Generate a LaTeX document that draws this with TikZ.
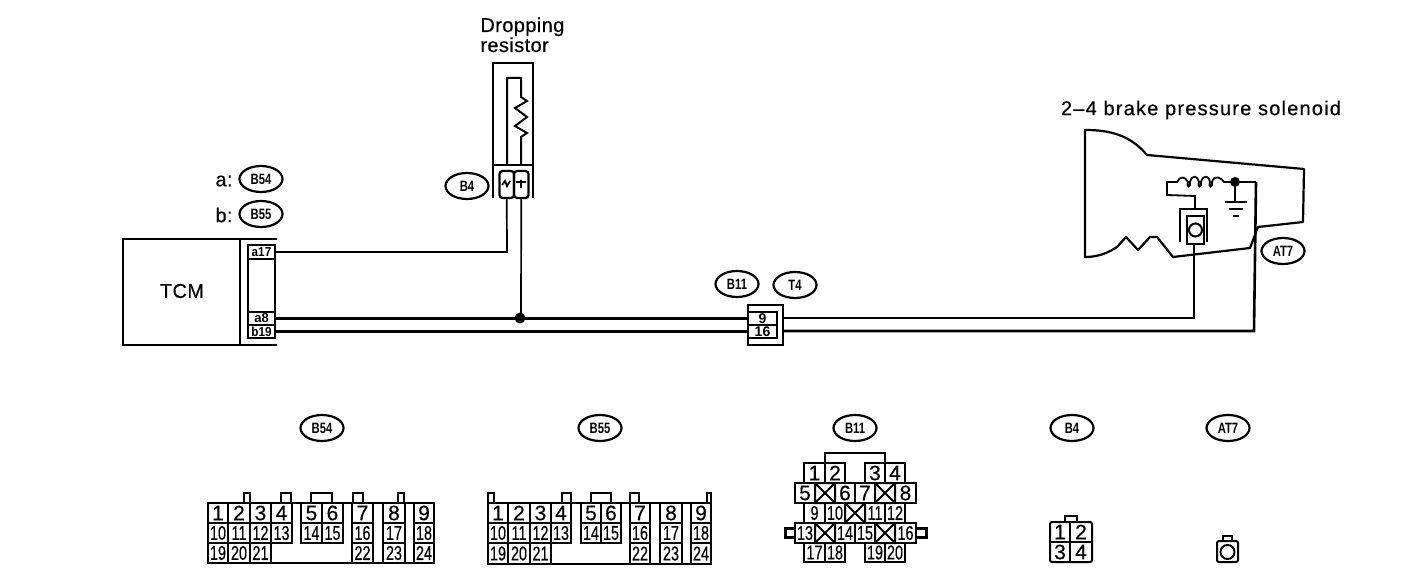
\documentclass[tikz,border=0pt]{standalone}
\usepackage{fontspec}
\setmainfont{Liberation Sans}
\newfontfamily\heavy[FakeBold=.35]{Liberation Sans}
\newfontfamily\heavyb[FakeBold=.35,LetterSpace=2]{Liberation Sans}
\newfontfamily\heavys[FakeBold=.35,LetterSpace=6]{Liberation Sans}
\usetikzlibrary{shapes.geometric}
\tikzset{
  oval/.style={draw,ellipse,line width=1.1pt,minimum width=21.5pt,minimum height=13pt,inner sep=0pt,font=\fontsize{7.5}{8}\bfseries\selectfont},
  lbl/.style={inner sep=0pt,font=\fontsize{10}{11}\heavyb},
  lbls/.style={inner sep=0pt,font=\fontsize{10}{11}\heavys},
  cellbox/.style={line width=1pt},
  big/.style={inner sep=0pt,font=\fontsize{10.5}{11}\heavy},
  small/.style={inner sep=0pt,font=\fontsize{10}{11}\heavy},
  wire/.style={line width=.85pt},
  fat/.style={line width=1.3pt},
  hull/.style={line width=1.1pt,line join=round},
  pin/.style={inner sep=0pt,font=\fontsize{6.5}{7}\bfseries\selectfont}
}
\newcommand{\nar}[1]{\scalebox{.72}[1]{#1}}
\newcommand{\ovt}[1]{\scalebox{.75}[1]{#1}}
\begin{document}
\begin{tikzpicture}[x=.5pt,y=-.5pt]
\useasboundingbox (0,0) rectangle (1408,582);
\fill[white] (0,0) rectangle (1408,582);

% ---- titles
\node[lbl,anchor=base west] (drop) at (480,32) {Dropping};
\node[lbl,anchor=base west] (res) at (480,52) {resistor};
\node[lbls] (sol) at (1201,110) {2–4 brake pressure solenoid};
\node[lbl] (la) at (224,181) {a:};
\node[lbl] (lb) at (224,215) {b:};
\node[oval] (ob54) at (261,179) {\ovt{B54}};
\node[oval] (ob55) at (261,214) {\ovt{B55}};
\node[oval] (ob4) at (467,186) {\ovt{B4}};
\node[oval] (ob11) at (737,284) {\ovt{B11}};
\node[oval] (ot4) at (795,285) {\ovt{T4}};
\node[oval] (oat7) at (1283,251) {\ovt{AT7}};
\node[oval] (cb54) at (322,428) {\ovt{B54}};
\node[oval] (cb55) at (600,428) {\ovt{B55}};
\node[oval] (cb11) at (855,428) {\ovt{B11}};
\node[oval] (cb4) at (1072,428) {\ovt{B4}};
\node[oval] (cat7) at (1228,428) {\ovt{AT7}};

% ---- TCM
\draw[line width=1.1pt] (123,239) rectangle (240,345);
\draw[line width=1.1pt] (240,239) -- (277,239) (240,345) -- (277,345);
\node[lbl] (tcm) at (182,291) {TCM};
\draw[line width=1.1pt] (248,245) rectangle (275,338);
\node[draw,line width=1.1pt,minimum width=13.5pt,minimum height=7pt,inner sep=0pt,pin] (a17) at (261.5,252) {\scalebox{.9}[1]{a17}};
\node[draw,line width=1.1pt,minimum width=13.5pt,minimum height=6.5pt,inner sep=0pt,pin] (a8) at (261.5,318.5) {a8};
\node[draw,line width=1.1pt,minimum width=13.5pt,minimum height=6.5pt,inner sep=0pt,pin] (b19) at (261.5,331.5) {\scalebox{.9}[1]{b19}};

% ---- Dropping resistor
\draw[line width=1.1pt] (493,198) -- (493,63) -- (533,63) -- (533,198);
\draw[wire] (493,165) -- (533,165);
\node[draw,line width=1.1pt,rounded corners=1.5pt,minimum width=7.25pt,minimum height=13.5pt,inner sep=0pt] (cl) at (506.75,184.5) {};
\node[draw,line width=1.1pt,rounded corners=1.5pt,minimum width=7.25pt,minimum height=13.5pt,inner sep=0pt] (cr) at (521.25,184.5) {};
\draw[line width=.9pt] (502,185) -- (505,181) -- (507,186) -- (510,181) (516,182) -- (526,182) (521,180) -- (521,188);
\coordinate (rl) at (507,165);
\coordinate (rr) at (521,165);
\coordinate (rt) at (521,97);
\draw[line width=1pt] (rl) -- (507,78) -- (521,78) -- (rt) -- (527,101) -- (515,108) -- (527,117) -- (515,126) -- (527,133) -- (521,137) -- (rr);

% ---- junction connector
\node[draw,line width=1.3pt,minimum width=14.5pt,minimum height=6.5pt,inner sep=0pt,font=\fontsize{7}{8}\bfseries\selectfont] (j9) at (762.5,318.5) {9};
\node[draw,line width=1.3pt,minimum width=14.5pt,minimum height=6.5pt,inner sep=0pt,font=\fontsize{7}{8}\bfseries\selectfont] (j16) at (762.5,331.5) {16};
\draw[line width=1.1pt] (748,305) -- (783,305) -- (783,345) -- (748,345) -- cycle;

% ---- wiring
\coordinate (jn) at (520,318);
\coordinate (gndtop) at (1235,182);
\coordinate (solb) at (1194,244);
\draw[wire] (a17.east) -- (507,252) -- (cl.south);
\draw[wire] (cr.south) -- (521,318);
\draw[fat] (a8.east) -- (j9.west);
\draw[fat] (b19.east) -- (j16.west);
\fill (jn) circle[radius=5.5];
\draw[fat] (783,318) -- (1194,318) -- (solb);
\draw[fat] (783,331) -- (1254,331) -- (1256,182);

% ---- transmission
\draw[hull] (1085,130) .. controls (1110,130) and (1130,135) .. (1147,155) -- (1304,169) -- (1303,222) -- (1258,227) -- (1250,248) -- (1173,257) -- (1157,237) -- (1150,237) -- (1138,250) -- (1126,237) -- (1117,247) .. controls (1108,253) and (1098,257) .. (1085,257) -- cycle;
\draw[line width=.9pt] (1195,209) -- (1195,196) -- (1167,195) -- (1167,182) -- (1177,182)
  .. controls (1180,176) and (1185,176) .. (1188,182)
  .. controls (1186,188) and (1191,188) .. (1190,182)
  .. controls (1192,174) and (1198,176) .. (1199,182)
  .. controls (1197,188) and (1202,188) .. (1201,182)
  .. controls (1203,174) and (1210,176) .. (1210,182)
  .. controls (1208,188) and (1213,188) .. (1212,182)
  .. controls (1214,174) and (1222,178) .. (1224,182) -- (gndtop) -- (1256,182);
\fill (gndtop) circle[radius=5];
\draw[line width=.9pt] (gndtop) -- (1235,202);
\draw[line width=1pt] (1225,202) -- (1247,202) (1229,209) -- (1243,209) (1233,216) -- (1239,216);
\draw[line width=1.1pt] (1180,242) -- (1180,209) -- (1207,209) -- (1207,242);
\draw[line width=1.4pt] (1187,216) rectangle (1204,244);
\draw[line width=1pt] (1195.5,230) circle[radius=6.5];

% ---- connector B54
\draw[line width=1.1pt] (208,503) -- (434,503) (208,563) -- (434,563);
\foreach \a/\b/\n in {208/228/1,228/250/2,250/271/3,271/292/4,301/322/5,322/343/6,352/373/7,383/405/8,414/434/9}
  \draw[cellbox] (\a,503) rectangle (\b,523) node[midway,big] (pa\n) {\n};
\foreach \a/\b/\n in {208/228/10,228/250/11,250/271/12,271/292/13,301/322/14,322/343/15,352/373/16,383/405/17,414/434/18}
  \draw[cellbox] (\a,523) rectangle (\b,543) node[midway,small] (pa\n) {\nar{\n}};
\foreach \a/\b/\n in {208/228/19,228/250/20,250/271/21,352/373/22,383/405/23,414/434/24}
  \draw[cellbox] (\a,543) rectangle (\b,563) node[midway,small] (pa\n) {\nar{\n}};
\foreach \a/\b in {244/250,281/291,311/332,353/363,398/404}
  \draw[cellbox] (\a,503) -- (\a,493) -- (\b,493) -- (\b,503);

% ---- connector B55
\draw[line width=1.1pt] (488,503) -- (711,503) (488,564) -- (711,564);
\foreach \a/\b/\n in {488/508/1,508/530/2,530/551/3,551/571/4,581/601/5,601/621/6,630/650/7,660/682/8,691/711/9}
  \draw[cellbox] (\a,503) rectangle (\b,523) node[midway,big] (pb\n) {\n};
\foreach \a/\b/\n in {488/508/10,508/530/11,530/551/12,551/571/13,581/601/14,601/621/15,630/650/16,660/682/17,691/711/18}
  \draw[cellbox] (\a,523) rectangle (\b,543) node[midway,small] (pb\n) {\nar{\n}};
\foreach \a/\b/\n in {488/508/19,508/530/20,530/551/21,630/650/22,660/682/23,691/711/24}
  \draw[cellbox] (\a,543) rectangle (\b,564) node[midway,small] (pb\n) {\nar{\n}};
\foreach \a/\b in {488/494,562/571,591/611,630/639,707/711}
  \draw[cellbox] (\a,503) -- (\a,493) -- (\b,493) -- (\b,503);

% ---- connector B11
\draw[cellbox] (825,463) -- (825,453) -- (885,453) -- (885,463);
\foreach \a/\b/\n in {804/825/1,825/845/2,865/885/3,885/905/4}
  \draw[cellbox] (\a,463) rectangle (\b,483) node[midway,big] (pc\n) {\n};
\foreach \a/\b/\n in {795/815/5,835/855/6,855/875/7,895/916/8}
  \draw[cellbox] (\a,483) rectangle (\b,503) node[midway,big] (pc\n) {\n};
\foreach \a/\b/\n in {804/825/9,825/845/10,865/885/11,885/905/12}
  \draw[cellbox] (\a,503) rectangle (\b,523) node[midway,small] (pc\n) {\nar{\n}};
\foreach \a/\b/\n in {795/815/13,835/855/14,855/875/15,895/916/16}
  \draw[cellbox] (\a,523) rectangle (\b,543) node[midway,small] (pc\n) {\nar{\n}};
\foreach \a/\b/\n in {804/825/17,825/845/18,865/885/19,885/905/20}
  \draw[cellbox] (\a,543) rectangle (\b,562) node[midway,small] (pc\n) {\nar{\n}};
\foreach \a/\b/\c/\d in {815/835/483/503,875/895/483/503,845/865/503/523,815/835/523/543,875/895/523/543}
  \draw[cellbox] (\a,\c) rectangle (\b,\d) (\a,\c) -- (\b,\d) (\a,\d) -- (\b,\c);
\draw[line width=1.5pt] (795,528) -- (785,528) -- (785,537) -- (795,537) (916,528) -- (926,528) -- (926,537) -- (916,537);

% ---- connector B4
\draw[cellbox,rounded corners=1pt] (1050,522) rectangle (1092,562);
\draw[cellbox] (1070,522) -- (1070,562) (1050,542) -- (1092,542);
\node[big] (d1) at (1060,532) {1};
\node[big] (d2) at (1081,532) {2};
\node[big] (d3) at (1060,552) {3};
\node[big] (d4) at (1081,552) {4};
\draw[cellbox] (1065,522) -- (1065,516) -- (1077,516) -- (1077,522);

% ---- connector AT7
\draw[cellbox,rounded corners=1pt] (1217,541) rectangle (1238,562);
\draw[cellbox] (1223,541) -- (1223,536) -- (1232,536) -- (1232,541);
\draw[cellbox] (1227.5,552) circle[radius=7];
\end{tikzpicture}
\end{document}
